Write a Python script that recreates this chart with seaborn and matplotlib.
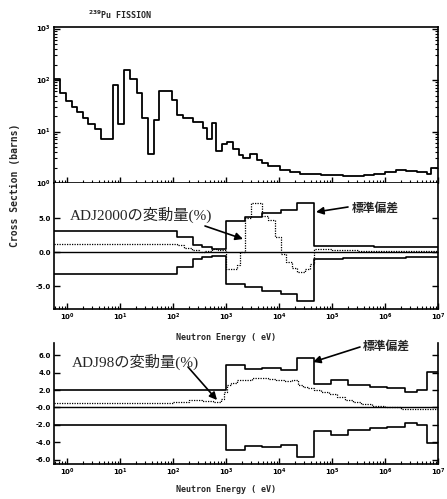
import numpy as np
import pandas as pd
import matplotlib
matplotlib.use("Agg")
import matplotlib.pyplot as plt
import seaborn as sns
from matplotlib.ticker import LogLocator, FixedLocator, FixedFormatter, NullFormatter

# ---------------- data (group edges as log10(E/eV)) ----------------
xs_log_edges = [-0.25, -0.13, -0.02, 0.09, 0.18, 0.30, 0.40, 0.53, 0.65, 0.86, 0.97,
                1.08, 1.19, 1.32, 1.41, 1.52, 1.64, 1.74, 1.98, 2.07, 2.19, 2.38,
                2.57, 2.64, 2.73, 2.82, 2.92, 3.01, 3.14, 3.24, 3.32, 3.45, 3.58,
                3.68, 3.80, 4.02, 4.21, 4.4, 4.6, 4.8, 5.0, 5.2, 5.4, 5.6, 5.8,
                6.0, 6.2, 6.4, 6.6, 6.8, 6.86, 7.0]
xs_barns = [106, 57, 40, 30, 24, 18.6, 13.7, 11, 7.3, 81, 13.7, 160, 106, 56, 18,
            3.7, 16.7, 60, 41, 21, 18, 15.5, 11.5, 7.3, 14.4, 4.1, 5.8, 6.3, 4.6,
            3.5, 3.0, 3.6, 2.8, 2.4, 2.1, 1.75, 1.6, 1.52, 1.48, 1.45, 1.4, 1.37,
            1.38, 1.43, 1.5, 1.62, 1.75, 1.72, 1.6, 1.5, 1.95]

adj2000_std_edges = [-0.25, 2.07, 2.38, 2.54, 2.73, 3.0, 3.36, 3.68, 4.03, 4.34,
                     4.66, 5.2, 5.8, 6.4, 7.0]
adj2000_std = [3.2, 2.2, 1.05, 0.74, 0.5, 4.6, 5.15, 5.75, 6.2, 7.2, 0.95, 0.88,
               0.8, 0.72]
adj2000_var_edges = [-0.25, 2.07, 2.2, 2.35, 2.5, 2.6, 2.73, 2.85, 3.0, 3.2, 3.26,
                     3.36, 3.48, 3.68, 3.80, 3.92, 4.03, 4.14, 4.24, 4.34, 4.49,
                     4.58, 4.66, 5.0, 5.5, 6.0, 6.5, 7.0]
adj2000_var = [1.2, 1.0, 0.7, 0.35, 0.1, 0.2, 0.45, 0.3, -2.5, -1.9, 0.1, 5.0,
               7.3, 5.4, 4.75, 2.3, -0.2, -1.4, -2.35, -2.85, -2.4, -1.7, 0.45,
               0.35, 0.25, 0.2, 0.15]

adj98_std_edges = [-0.25, 3.0, 3.36, 3.68, 4.03, 4.34, 4.66, 4.99, 5.31, 5.72,
                   6.03, 6.38, 6.60, 6.79, 7.0]
adj98_std = [2.05, 4.9, 4.4, 4.55, 4.3, 5.65, 2.7, 3.15, 2.55, 2.35, 2.2, 1.8,
             2.05, 4.1]
adj98_var_edges = [-0.25, 1.5, 2.0, 2.3, 2.55, 2.75, 2.9, 2.97, 3.01, 3.1, 3.2,
                   3.35, 3.5, 3.65, 3.8, 3.95, 4.1, 4.25, 4.35, 4.45, 4.55, 4.66,
                   4.8, 4.95, 5.1, 5.25, 5.4, 5.55, 5.75, 6.0, 6.3, 6.6, 7.0]
adj98_var = [0.5, 0.55, 0.65, 0.85, 0.75, 0.6, 1.0, 1.8, 2.6, 2.8, 3.1, 3.15,
             3.35, 3.4, 3.25, 3.1, 3.0, 3.1, 2.6, 2.3, 2.2, 2.0, 1.8, 1.5, 1.25,
             0.9, 0.6, 0.35, 0.15, 0.0, -0.15, -0.2]

x_major = [1, 10, 100, 1e3, 1e4, 1e5, 1e6, 1e7]
x_major_labels = [r"$10^{%d}$" % i for i in range(8)]
top_y_ticks = [1, 10, 100, 1000]
top_y_labels = [r"$10^{%d}$" % i for i in range(4)]
mid_y_ticks = [-5, 0, 5]
mid_y_labels = ["-5.0", "0.0", "5.0"]
bot_y_ticks = [-6, -4, -2, 0, 2, 4, 6]
bot_y_labels = ["-6.0", "-4.0", "-2.0", "-0.0", "2.0", "4.0", "6.0"]

# ---------------- style ----------------
sns.set_theme(style="white")
plt.rcParams["font.family"] = ["DejaVu Sans"]
plt.rcParams["mathtext.fontset"] = "dejavusans"
plt.rcParams["mathtext.default"] = "bf"
JP = ["Liberation Serif", "Noto Sans CJK JP"]
JPB = ["Noto Sans CJK JP"]
MONO = ["DejaVu Sans Mono"]

W, H = 447, 499
fig = plt.figure(figsize=(W / 100, H / 100), dpi=100)
fig.patch.set_facecolor("white")


def frac_rect(x0, y0, x1, y1):
    return [x0 / W, 1 - y1 / H, (x1 - x0) / W, (y1 - y0) / H]


ax1 = fig.add_axes(frac_rect(54, 27, 438, 183))
ax2 = fig.add_axes(frac_rect(54, 183, 438, 309))
ax3 = fig.add_axes(frac_rect(54, 343, 438, 464))


def step_df(log_edges, values, sign=1.0):
    assert len(log_edges) == len(values) + 1
    e = 10 ** np.asarray(log_edges, dtype=float)
    v = sign * np.asarray(list(values) + [values[-1]], dtype=float)
    return pd.DataFrame({"E": e, "v": v})


def draw(ax, df, **kw):
    sns.lineplot(data=df, x="E", y="v", drawstyle="steps-post", estimator=None,
                 sort=False, color="black", ax=ax, legend=False, **kw)


for ax in (ax1, ax2, ax3):
    ax.set_xscale("log")

ax1.set_yscale("log")
draw(ax1, step_df(xs_log_edges, xs_barns), lw=1.3)

for ax, se, sv, ve, vv in ((ax2, adj2000_std_edges, adj2000_std, adj2000_var_edges, adj2000_var),
                           (ax3, adj98_std_edges, adj98_std, adj98_var_edges, adj98_var)):
    ax.axhline(0, color="black", lw=1.0)
    draw(ax, step_df(se, sv), lw=1.2)
    draw(ax, step_df(se, sv, -1.0), lw=1.2)
    draw(ax, step_df(ve, vv), lw=0.9, linestyle=(0, (1, 1)))

xlim = (10 ** -0.245, 1e7)
ax1.set_ylim(1, 10 ** 3.03)
ax2.set_ylim(-8.34, 10.19)
ax3.set_ylim(-6.5, 7.4)

for ax in (ax1, ax2, ax3):
    ax.set_xlim(*xlim)
    ax.set_xlabel("")
    ax.set_ylabel("")
    ax.xaxis.set_major_locator(FixedLocator(x_major))
    ax.xaxis.set_major_formatter(FixedFormatter(x_major_labels))
    ax.xaxis.set_minor_locator(LogLocator(base=10, subs=np.arange(2, 10), numticks=30))
    ax.xaxis.set_minor_formatter(NullFormatter())
    ax.tick_params(which="both", direction="in", right=True, top=False,
                   left=True, bottom=True, labelsize=5, colors="black", pad=2)
    ax.tick_params(which="major", length=4, width=1.0)
    ax.tick_params(which="minor", length=2, width=0.8)
    for s in ax.spines.values():
        s.set_color("black")
        s.set_linewidth(1.2)

ax1.yaxis.set_major_locator(FixedLocator(top_y_ticks))
ax1.yaxis.set_major_formatter(FixedFormatter(top_y_labels))
ax1.yaxis.set_minor_locator(LogLocator(base=10, subs=np.arange(2, 10), numticks=30))
ax1.yaxis.set_minor_formatter(NullFormatter())
ax1.tick_params(axis="x", labelbottom=False)

ax2.yaxis.set_major_locator(FixedLocator(mid_y_ticks))
ax2.yaxis.set_major_formatter(FixedFormatter(mid_y_labels))
ax2.spines["top"].set_visible(False)

ax3.yaxis.set_major_locator(FixedLocator(bot_y_ticks))
ax3.yaxis.set_major_formatter(FixedFormatter(bot_y_labels))
ax3.spines["top"].set_visible(False)

for ax in (ax1, ax2, ax3):
    for lab in ax.get_xticklabels() + ax.get_yticklabels():
        lab.set_fontweight("bold")
        lab.set_fontsize(5)

# ---------------- texts ----------------
def fx(x):
    return x / W


def fy(y):
    return 1 - y / H


fig.text(fx(88), fy(15), r"$^{239}$Pu FISSION", fontsize=6, weight="bold",
         family=MONO, va="center", ha="left")
fig.text(fx(15), fy(185), "Cross Section (barns)", rotation=90, fontsize=7,
         weight="bold", family=MONO, ha="center", va="center")
fig.text(fx(226), fy(338), "Neutron Energy ( eV)", fontsize=6, weight="bold",
         family=MONO, ha="center", va="center")
fig.text(fx(226), fy(490), "Neutron Energy ( eV)", fontsize=6, weight="bold",
         family=MONO, ha="center", va="center")

fig.text(fx(70), fy(215), "ADJ2000の変動量(%)", fontsize=11, family=JP,
         ha="left", va="center")
fig.text(fx(72), fy(362), "ADJ98の変動量(%)", fontsize=11, family=JP,
         ha="left", va="center")
fig.text(fx(352), fy(208), "標準偏差", fontsize=8.5, family=JPB, weight="bold",
         ha="left", va="center")
fig.text(fx(363), fy(346), "標準偏差", fontsize=8.5, family=JPB, weight="bold",
         ha="left", va="center")

arrow = dict(arrowstyle="-|>", color="black", lw=1.2, mutation_scale=11,
             shrinkA=0, shrinkB=0)
for (x0, y0), (x1, y1) in (((205, 226), (243, 239)),
                           ((348, 207), (316, 212)),
                           ((188, 367), (217, 400)),
                           ((360, 347), (313, 362))):
    fig.add_artist(matplotlib.patches.FancyArrowPatch(
        (fx(x0), fy(y0)), (fx(x1), fy(y1)), transform=fig.transFigure, **arrow))

fig.savefig("out.png", dpi=100, facecolor="white")
